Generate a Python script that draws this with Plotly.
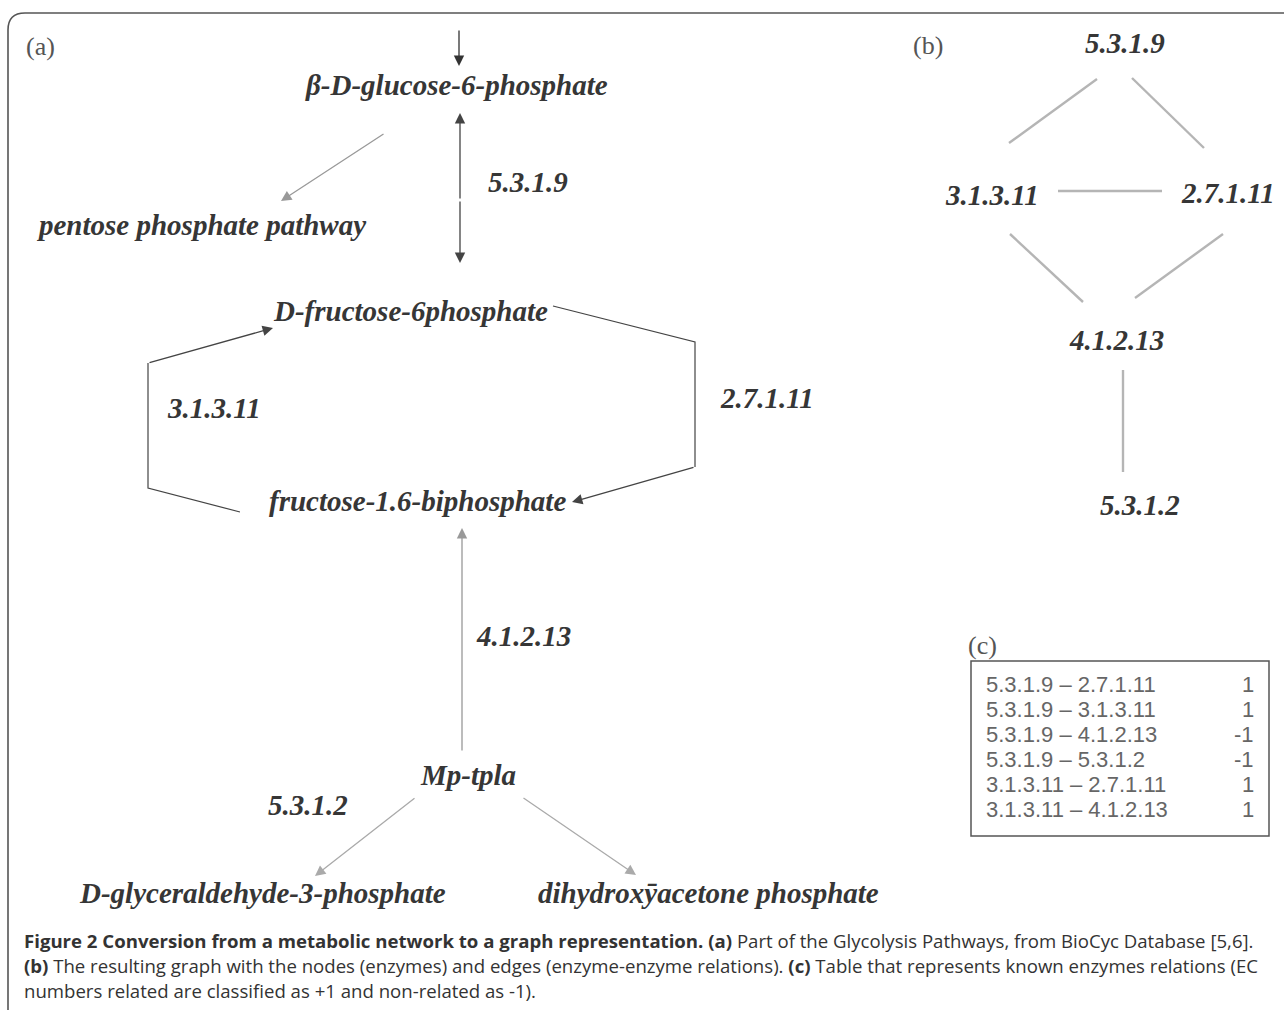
import plotly.graph_objects as go

W, H = 1284, 1010

# ---------------- panel (a): metabolites and enzymes ----------------
metabolites = ["β-D-glucose-6-phosphate", "pentose phosphate pathway", "D-fructose-6phosphate",
               "fructose-1.6-biphosphate", "Mp-tpla", "D-glyceraldehyde-3-phosphate",
               "dihydroxȳacetone phosphate"]
metab_x = [456, 201, 410, 417, 468, 262, 708]
metab_y = [85, 225, 311, 501, 775, 893, 893]

enzymes_a = ["5.3.1.9", "3.1.3.11", "2.7.1.11", "4.1.2.13", "5.3.1.2"]
enz_a_x = [486, 165, 718, 474, 266]
enz_a_y = [182, 408, 398, 636, 805]

# arrows: (tail_x, tail_y, head_x, head_y, color)
arrows_a = [
    (459, 29, 459, 66, "#333333"),
    (460, 200, 460, 113, "#444444"),
    (460, 200, 460, 263, "#444444"),
    (385, 133, 281, 201, "#999999"),
    (148, 363, 273, 328, "#444444"),
    (695, 467, 572, 502, "#444444"),
    (462, 752, 462, 528, "#999999"),
    (416, 797, 315, 876, "#aaaaaa"),
    (522, 797, 636, 875, "#aaaaaa"),
]
# polylines (without heads)
poly_right_x = [553, 695, 695]
poly_right_y = [306, 342, 467]
poly_left_x = [240, 148, 148]
poly_left_y = [512, 488, 363]

# ---------------- panel (b): enzyme graph ----------------
nodes_b = ["5.3.1.9", "3.1.3.11", "2.7.1.11", "4.1.2.13", "5.3.1.2"]
node_b_x = [1125, 992, 1228, 1116, 1140]
node_b_y = [43, 195, 193, 340, 505]
edges_b = [  # x0, y0, x1, y1
    (1097, 79, 1009, 143),
    (1132, 78, 1204, 148),
    (1058, 191, 1162, 191),
    (1010, 234, 1083, 302),
    (1223, 234, 1135, 298),
    (1123, 370, 1123, 472),
]

# ---------------- panel (c): relation table ----------------
pairs_c = ["5.3.1.9 – 2.7.1.11", "5.3.1.9 – 3.1.3.11", "5.3.1.9 – 4.1.2.13",
           "5.3.1.9 – 5.3.1.2", "3.1.3.11 – 2.7.1.11", "3.1.3.11 – 4.1.2.13"]
labels_c = ["1", "1", "-1", "-1", "1", "1"]
rows_y = [684, 709, 734, 759, 784, 809]

caption_lines = [
    "<b>Figure 2 Conversion from a metabolic network to a graph representation. (a)</b> Part of the Glycolysis Pathways, from BioCyc Database [5,6].",
    "<b>(b)</b> The resulting graph with the nodes (enzymes) and edges (enzyme-enzyme relations). <b>(c)</b> Table that represents known enzymes relations (EC",
    "numbers related are classified as +1 and non-related as -1).",
]
caption_y = [940, 965, 990]

SERIF = "Liberation Serif, DejaVu Serif, serif"
TXT = "#363636"
LBL = 29

fig = go.Figure()

for xs, ys in [(poly_right_x, poly_right_y), (poly_left_x, poly_left_y)]:
    fig.add_trace(go.Scatter(x=xs, y=ys, mode="lines", line=dict(color="#444444", width=1.2),
                             hoverinfo="skip", showlegend=False))

for (x0, y0, x1, y1) in edges_b:
    fig.add_trace(go.Scatter(x=[x0, x1], y=[y0, y1], mode="lines",
                             line=dict(color="#b5b5b5", width=2.4),
                             hoverinfo="skip", showlegend=False))

ann = []
for (tx, ty, hx, hy, col) in arrows_a:
    ann.append(dict(x=hx, y=hy, ax=tx, ay=ty, xref="x", yref="y", axref="x", ayref="y",
                    text="", showarrow=True, arrowhead=2, arrowsize=1.6, arrowwidth=1.3,
                    arrowcolor=col, standoff=0, startstandoff=0))

for t, x, y in zip(metabolites, metab_x, metab_y):
    ann.append(dict(x=x, y=y, text=f"<b><i>{t}</i></b>", showarrow=False, xanchor="center",
                    yanchor="middle", font=dict(family=SERIF, size=LBL, color=TXT)))
for t, x, y in zip(enzymes_a, enz_a_x, enz_a_y):
    ann.append(dict(x=x, y=y, text=f"<b><i>{t}</i></b>", showarrow=False, xanchor="left",
                    yanchor="middle", font=dict(family=SERIF, size=LBL, color=TXT)))
for t, x, y in zip(nodes_b, node_b_x, node_b_y):
    ann.append(dict(x=x, y=y, text=f"<b><i>{t}</i></b>", showarrow=False, xanchor="center",
                    yanchor="middle", font=dict(family=SERIF, size=LBL, color=TXT)))

for t, x, y in [("(a)", 24, 46), ("(b)", 911, 45), ("(c)", 966, 645)]:
    ann.append(dict(x=x, y=y, text=t, showarrow=False, xanchor="left", yanchor="middle",
                    font=dict(family=SERIF, size=26, color="#555555")))

for p, v, y in zip(pairs_c, labels_c, rows_y):
    ann.append(dict(x=984, y=y, text=p, showarrow=False, xanchor="left", yanchor="middle",
                    font=dict(family="Liberation Sans, Arial, sans-serif", size=22, color="#666666")))
    ann.append(dict(x=1256, y=y, text=v, showarrow=False, xanchor="right", yanchor="middle",
                    font=dict(family="Liberation Sans, Arial, sans-serif", size=22, color="#666666")))

for t, y in zip(caption_lines, caption_y):
    ann.append(dict(x=22, y=y, text=t, showarrow=False, xanchor="left", yanchor="middle",
                    font=dict(family="Open Sans, Noto Sans, sans-serif", size=18.6, color="#333333")))

shapes = [
    dict(type="path", path="M 8 1012 L 8 30 Q 8 13 25 13 L 1290 13",
         line=dict(color="#555555", width=1.6), xref="x", yref="y"),
    dict(type="rect", x0=971, y0=661, x1=1269, y1=836, line=dict(color="#555555", width=1.5),
         xref="x", yref="y"),
]

fig.update_layout(
    width=W, height=H, margin=dict(l=0, r=0, t=0, b=0),
    paper_bgcolor="white", plot_bgcolor="white",
    xaxis=dict(range=[0, W], visible=False, fixedrange=True),
    yaxis=dict(range=[H, 0], visible=False, fixedrange=True),
    annotations=ann, shapes=shapes, showlegend=False,
)

fig.write_html("out.html", config={"displayModeBar": False},
               post_script="document.body.style.margin='0';document.body.style.overflow='hidden';")
